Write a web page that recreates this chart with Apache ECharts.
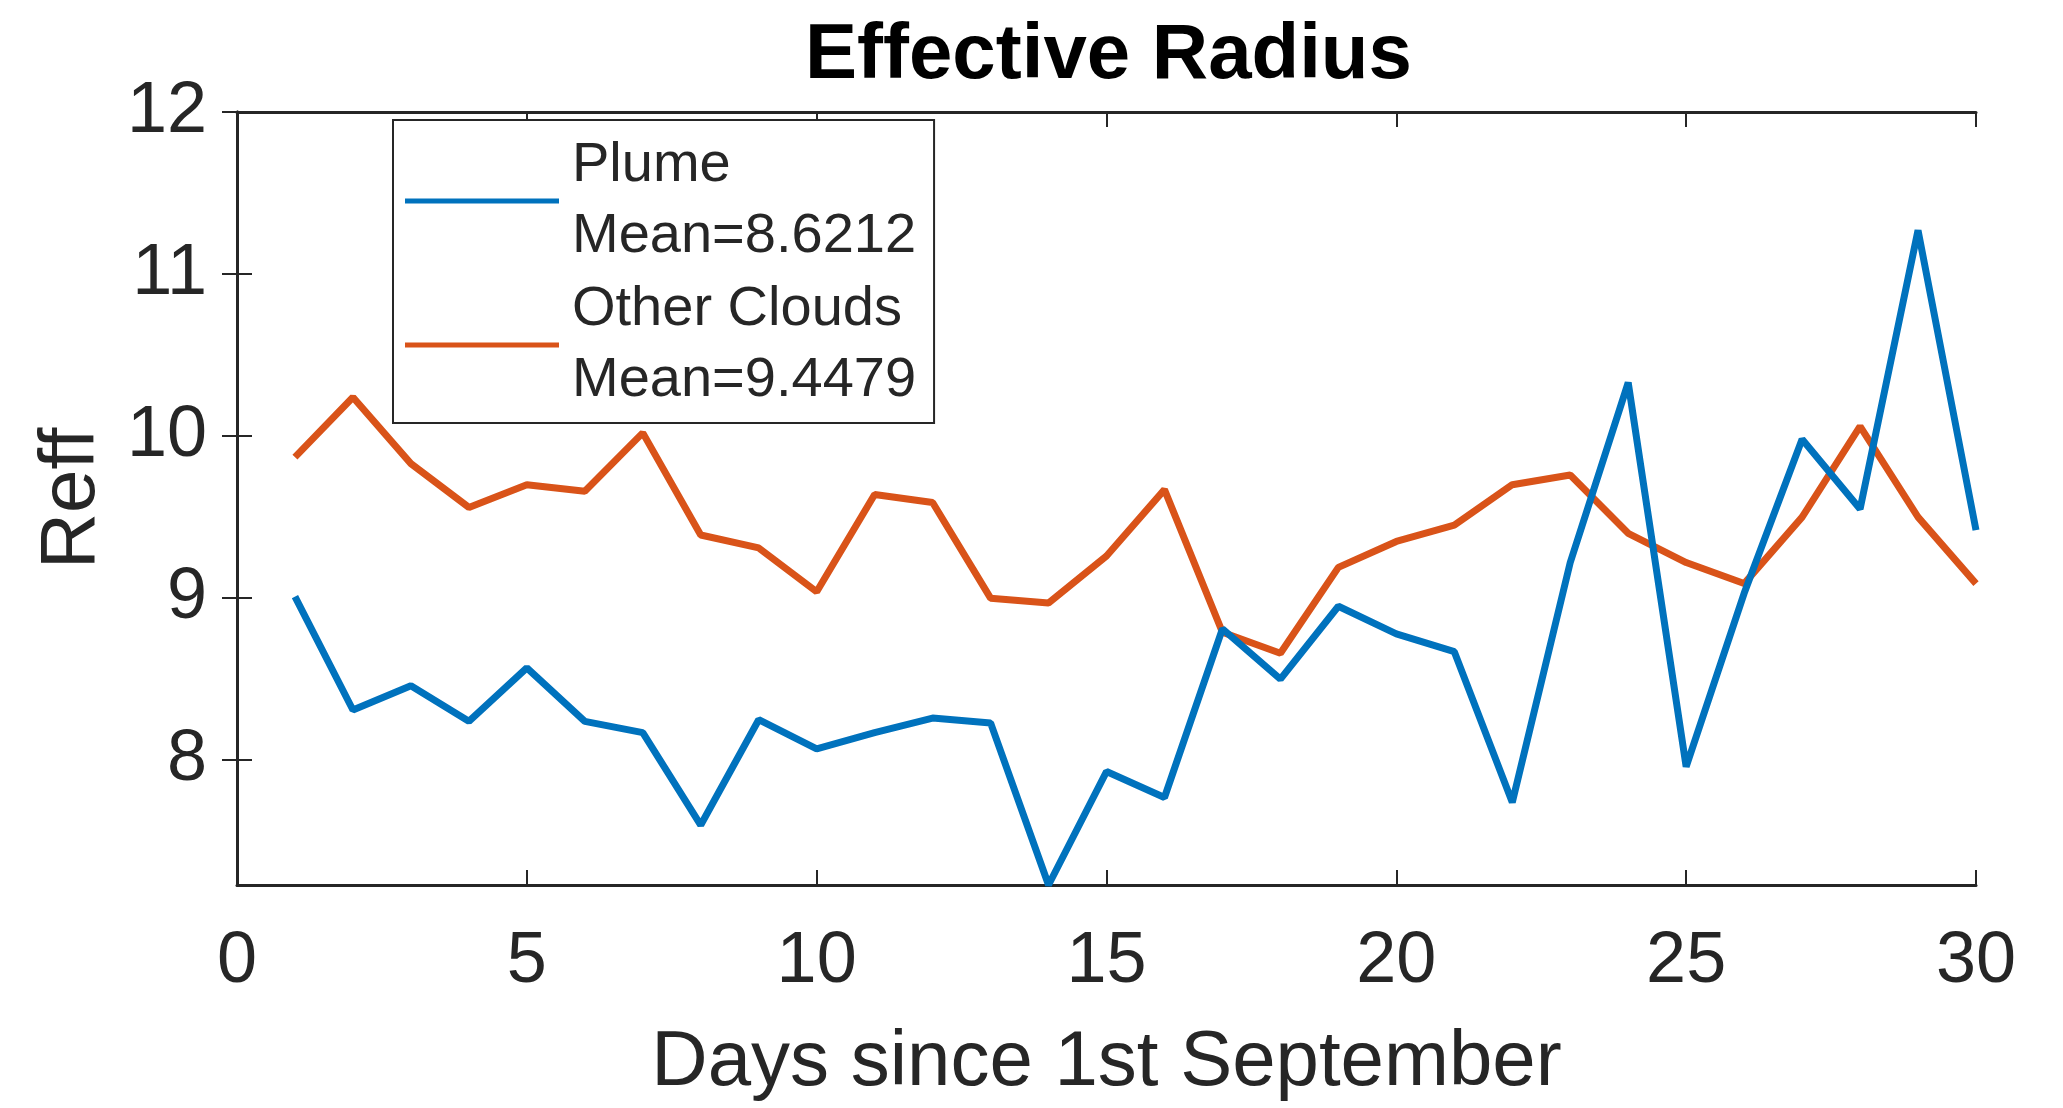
<!DOCTYPE html>
<html>
<head>
<meta charset="utf-8">
<title>Effective Radius</title>
<script src="https://cdn.jsdelivr.net/npm/echarts@6/dist/echarts.min.js"></script>
<style>
  html, body { margin: 0; padding: 0; background: #ffffff; }
  #chart { width: 2063px; height: 1108px; }
</style>
</head>
<body>
<div id="chart"></div>
<script>
// Days since 1st September
const days = [1, 2, 3, 4, 5, 6, 7, 8, 9, 10, 11, 12, 13, 14, 15,
              16, 17, 18, 19, 20, 21, 22, 23, 24, 25, 26, 27, 28, 29, 30];

// Effective radius, plume pixels
const plume = [9.01, 8.31, 8.46, 8.24, 8.57, 8.24, 8.17, 7.60, 8.25, 8.07,
               8.17, 8.26, 8.23, 7.23, 7.93, 7.77, 8.81, 8.50, 8.95, 8.78,
               8.67, 7.74, 9.22, 10.33, 7.96, 9.03, 9.98, 9.55, 11.27, 9.42];

// Effective radius, other clouds
const otherClouds = [9.87, 10.24, 9.83, 9.56, 9.70, 9.66, 10.02, 9.39, 9.31, 9.04,
                     9.64, 9.59, 9.00, 8.97, 9.26, 9.67, 8.79, 8.66, 9.19, 9.35,
                     9.45, 9.70, 9.76, 9.40, 9.22, 9.09, 9.50, 10.06, 9.50, 9.09];

const seriesNames = ['Plume', 'Other Clouds'];
const seriesMeans = ['8.6212', '9.4479'];
const yTicks = [8, 9, 10, 11, 12];

const FONT = "'Liberation Sans', Arial, Helvetica, sans-serif";
const INK = '#262626';
const BLUE = '#0072BD';
const ORANGE = '#D95319';

// y axis is tight to the data at the bottom
const yMin = Math.min(...plume, ...otherClouds);
const yMax = 12;

const pairs = (ys) => days.map((d, i) => [d, ys[i]]);

const frameLine = { show: true, lineStyle: { color: INK, width: 3 } };
const innerTick = { show: true, inside: true, length: 15, lineStyle: { color: INK, width: 2 } };

const chart = echarts.init(document.getElementById('chart'), null, { renderer: 'canvas' });

chart.setOption({
  backgroundColor: '#ffffff',
  animation: false,
  title: {
    // sits over the middle of the plot area
    text: 'Effective Radius',
    left: 800,
    top: 12,
    padding: 5,
    textStyle: { fontFamily: FONT, fontWeight: 'bold', fontSize: 78, color: '#000000' }
  },
  grid: { left: 237, right: 87, top: 112, bottom: 223, containLabel: false },
  legend: {
    left: 393,
    top: 120,
    orient: 'vertical',
    itemGap: 2,
    itemWidth: 154,
    itemHeight: 5,
    icon: 'rect',
    padding: [10, 18, 7, 12],
    backgroundColor: '#ffffff',
    borderColor: INK,
    borderWidth: 2,
    borderRadius: 0,
    data: seriesNames,
    formatter: (name) => name + '\nMean=' + seriesMeans[seriesNames.indexOf(name)],
    textStyle: {
      fontFamily: FONT, fontSize: 56, color: INK, lineHeight: 71,
      padding: [0, 0, 0, 8]
    }
  },
  xAxis: [
    {
      type: 'value', position: 'bottom', min: 0, max: 30, interval: 5,
      name: 'Days since 1st September',
      nameLocation: 'middle',
      nameGap: 139,
      nameTextStyle: { fontFamily: FONT, fontSize: 78, color: INK },
      axisLine: frameLine,
      axisTick: innerTick,
      axisLabel: { fontFamily: FONT, fontSize: 72, color: INK, margin: 41 },
      splitLine: { show: false }
    },
    {
      type: 'value', position: 'top', min: 0, max: 30, interval: 5,
      axisLine: frameLine,
      axisTick: innerTick,
      axisLabel: { show: false },
      splitLine: { show: false }
    }
  ],
  yAxis: [
    {
      type: 'value', position: 'left', min: yMin, max: yMax,
      name: 'Reff',
      nameLocation: 'middle',
      nameGap: 126,
      nameRotate: 90,
      nameTextStyle: { fontFamily: FONT, fontSize: 78, color: INK },
      axisLine: frameLine,
      axisTick: Object.assign({}, innerTick, { customValues: yTicks }),
      axisLabel: { fontFamily: FONT, fontSize: 72, color: INK, margin: 30, customValues: yTicks },
      splitLine: { show: false }
    },
    {
      type: 'value', position: 'right', min: yMin, max: yMax,
      axisLine: frameLine,
      axisTick: Object.assign({}, innerTick, { customValues: yTicks }),
      axisLabel: { show: false, customValues: yTicks },
      splitLine: { show: false }
    }
  ],
  series: [
    {
      name: seriesNames[0], type: 'line', xAxisIndex: 0, yAxisIndex: 0,
      data: pairs(plume), showSymbol: false, symbol: 'none',
      lineStyle: { color: BLUE, width: 7 }, itemStyle: { color: BLUE },
      clip: true, z: 3
    },
    {
      name: seriesNames[1], type: 'line', xAxisIndex: 0, yAxisIndex: 0,
      data: pairs(otherClouds), showSymbol: false, symbol: 'none',
      lineStyle: { color: ORANGE, width: 7 }, itemStyle: { color: ORANGE },
      clip: true, z: 2
    }
  ]
});
</script>
</body>
</html>
